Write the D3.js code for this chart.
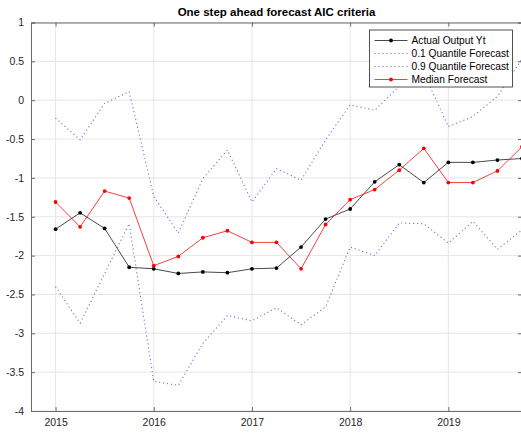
<!DOCTYPE html>
<html>
<head>
<meta charset="utf-8">
<script src="https://cdn.jsdelivr.net/npm/d3@7"></script>
<style>
  html, body { margin: 0; padding: 0; background: #fff; }
  svg { display: block; font-family: "Liberation Sans", Arial, Helvetica, sans-serif; }
</style>
</head>
<body>
<svg id="chart" width="521" height="433"></svg>
<script>
// Quarterly time stamps (fractional years)
const quarters = [2015.00, 2015.25, 2015.50, 2015.75,
                  2016.00, 2016.25, 2016.50, 2016.75,
                  2017.00, 2017.25, 2017.50, 2017.75,
                  2018.00, 2018.25, 2018.50, 2018.75,
                  2019.00, 2019.25, 2019.50, 2019.75];

const actualOutput = [-1.66, -1.45, -1.65, -2.15, -2.17, -2.23, -2.21, -2.22,
                      -2.17, -2.16, -1.89, -1.53, -1.40, -1.05, -0.83, -1.06,
                      -0.80, -0.80, -0.77, -0.75];

const quantile10 = [-2.40, -2.87, -2.23, -1.59, -3.62, -3.67, -3.13, -2.77,
                    -2.84, -2.67, -2.89, -2.66, -1.89, -2.00, -1.58, -1.59,
                    -1.84, -1.56, -1.92, -1.67];

const quantile90 = [-0.23, -0.51, -0.04, 0.11, -1.24, -1.71, -1.01, -0.64,
                    -1.31, -0.88, -1.03, -0.51, -0.06, -0.13, 0.18, 0.35,
                    -0.34, -0.21, 0.05, 0.53];

const medianForecast = [-1.31, -1.63, -1.17, -1.26, -2.13, -2.01, -1.77, -1.68,
                        -1.83, -1.83, -2.17, -1.60, -1.28, -1.15, -0.90, -0.62,
                        -1.06, -1.06, -0.91, -0.60];

const xTicks = [2015, 2016, 2017, 2018, 2019];
const yTicks = [-4, -3.5, -3, -2.5, -2, -1.5, -1, -0.5, 0, 0.5, 1];
const legendLabels = ["Actual Output Yt", "0.1 Quantile Forecast", "0.9 Quantile Forecast", "Median Forecast"];
const titleText = "One step ahead forecast AIC criteria";

const svg = d3.select("#chart");
const box = { left: 31, right: 522, top: 22.5, bottom: 411 };

const x = d3.scaleLinear().domain([2014.75, 2019.75]).range([box.left, box.right]);
const y = d3.scaleLinear().domain([-4, 1]).range([box.bottom, box.top]);

svg.append("defs").append("clipPath").attr("id", "plotClip")
  .append("rect").attr("x", box.left).attr("y", box.top)
  .attr("width", box.right - box.left).attr("height", box.bottom - box.top);

// grid
const grid = svg.append("g");
grid.selectAll("line.vx").data(xTicks).join("line")
  .attr("x1", d => x(d)).attr("x2", d => x(d))
  .attr("y1", box.top).attr("y2", box.bottom)
  .attr("stroke", "#e6e6e6").attr("stroke-width", 1);
grid.selectAll("line.hy").data(yTicks).join("line")
  .attr("x1", box.left).attr("x2", box.right)
  .attr("y1", d => y(d)).attr("y2", d => y(d))
  .attr("stroke", "#e6e6e6").attr("stroke-width", 1);

// axes (inward ticks, full box)
const axisColor = "#6b6b6b";
const fmtY = d => (d === 0 ? "0" : String(d));

const gB = svg.append("g").attr("transform", `translate(0,${box.bottom})`)
  .call(d3.axisBottom(x).tickValues(xTicks).tickSize(-4).tickPadding(8).tickFormat(d3.format("d")));
const gT = svg.append("g").attr("transform", `translate(0,${box.top})`)
  .call(d3.axisTop(x).tickValues(xTicks).tickSize(-4).tickFormat(""));
const gL = svg.append("g").attr("transform", `translate(${box.left},0)`)
  .call(d3.axisLeft(y).tickValues(yTicks).tickSize(-4).tickPadding(7).tickFormat(fmtY));
const gR = svg.append("g").attr("transform", `translate(${box.right},0)`)
  .call(d3.axisRight(y).tickValues(yTicks).tickSize(-4).tickFormat(""));

[gB, gT, gL, gR].forEach(g => {
  g.select(".domain").attr("stroke", axisColor).attr("stroke-width", 1);
  g.selectAll(".tick line").attr("stroke", axisColor).attr("stroke-width", 1);
  g.selectAll(".tick text").attr("fill", "#262626").attr("font-size", 10.5)
    .attr("font-family", "\"Liberation Sans\", Arial, sans-serif");
});

// series
const plot = svg.append("g").attr("clip-path", "url(#plotClip)");
const lineGen = vals => d3.line().x((d, i) => x(quarters[i])).y(d => y(d))(vals);

plot.append("path").attr("d", lineGen(actualOutput))
  .attr("fill", "none").attr("stroke", "#1a1a1a").attr("stroke-width", 0.8);
plot.selectAll("circle.act").data(actualOutput).join("circle")
  .attr("cx", (d, i) => x(quarters[i])).attr("cy", d => y(d)).attr("r", 1.9)
  .attr("fill", "#000");

const dotStyle = p => p.attr("fill", "none").attr("stroke", "#2b2bd9")
  .attr("stroke-opacity", 0.7).attr("stroke-width", 1.1).attr("stroke-dasharray", "1.1 2.9");
plot.append("path").attr("d", lineGen(quantile10)).call(dotStyle);
plot.append("path").attr("d", lineGen(quantile90)).call(dotStyle);

plot.append("path").attr("d", lineGen(medianForecast))
  .attr("fill", "none").attr("stroke", "#f01010").attr("stroke-width", 0.8);
plot.selectAll("circle.med").data(medianForecast).join("circle")
  .attr("cx", (d, i) => x(quarters[i])).attr("cy", d => y(d)).attr("r", 1.9)
  .attr("fill", "#ff0000");

// title
svg.append("text").attr("x", (box.left + box.right) / 2).attr("y", 16)
  .attr("text-anchor", "middle").attr("font-weight", "bold").attr("font-size", 11.5)
  .attr("fill", "#000").text(titleText);

// legend
const lg = svg.append("g").attr("transform", "translate(369.5,30)");
lg.append("rect").attr("width", 143).attr("height", 57)
  .attr("fill", "#fff").attr("stroke", "#262626").attr("stroke-width", 0.8);
const rowY = [10.5, 23.5, 36.5, 49.5];
legendLabels.forEach((lab, i) => {
  const row = lg.append("g").attr("transform", `translate(0,${rowY[i]})`);
  const ln = row.append("line").attr("x1", 5).attr("x2", 38).attr("y1", 0).attr("y2", 0);
  if (i === 0) {
    ln.attr("stroke", "#1a1a1a").attr("stroke-width", 0.8);
    row.append("circle").attr("cx", 21.5).attr("cy", 0).attr("r", 1.9).attr("fill", "#000");
  } else if (i === 3) {
    ln.attr("stroke", "#f01010").attr("stroke-width", 0.8);
    row.append("circle").attr("cx", 21.5).attr("cy", 0).attr("r", 1.9).attr("fill", "#ff0000");
  } else {
    ln.call(dotStyle);
  }
  row.append("text").attr("x", 42).attr("y", 3.8).attr("font-size", 10.2)
    .attr("fill", "#000").text(lab);
});
</script>
</body>
</html>
